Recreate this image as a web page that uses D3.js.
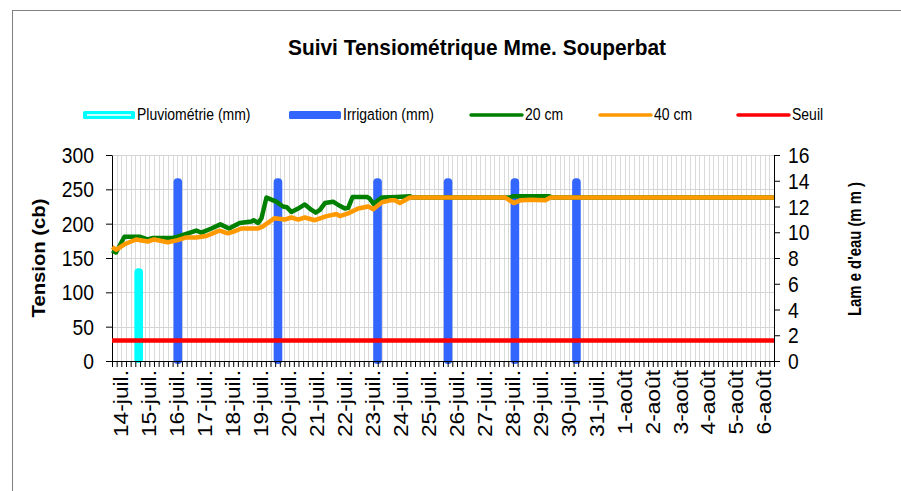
<!DOCTYPE html>
<html>
<head>
<meta charset="utf-8">
<script src="https://cdn.jsdelivr.net/npm/d3@7"></script>
<style>
  body { margin: 0; background: #fff; }
  svg { font-family: "Liberation Sans", Arial, sans-serif; display: block; }
</style>
</head>
<body>
<div id="svganchor"></div>
<script>
let width = 901;
let height = 491;
let margin = ({top: 155, right: 127, bottom: 130, left: 112});

// day labels (t = 0 is 14-juil.)
let dayLabels = ["14-juil.", "15-juil.", "16-juil.", "17-juil.", "18-juil.", "19-juil.", "20-juil.",
  "21-juil.", "22-juil.", "23-juil.", "24-juil.", "25-juil.", "26-juil.", "27-juil.", "28-juil.",
  "29-juil.", "30-juil.", "31-juil.", "1-août", "2-août", "3-août", "4-août", "5-août", "6-août"];

// tension at 20 cm : [day, cb]
let tension20 = [[-0.33,161],[-0.19,158],[0.11,181],[0.65,181],[0.94,177],[1.11,179],[1.79,179],
  [2.01,181],[2.32,185],[2.68,190],[2.86,187],[3.22,193],[3.54,199],[3.85,193],[4.23,201],
  [4.65,203],[4.73,205],[4.89,201],[5.01,208],[5.19,238],[5.54,232],[5.78,225],[5.92,224],
  [6.08,217],[6.32,222],[6.56,228],[6.80,220],[6.95,216],[7.10,220],[7.28,230],[7.57,232],
  [7.81,226],[7.99,222],[8.11,223],[8.27,239],[8.77,239],[8.87,237],[9.01,229],[9.31,238],
  [9.85,239],[10.32,240],[10.4,238],[13.9,238],[14.0,240],[15.3,240],[15.4,238],[23.33,238]];

// tension at 40 cm : [day, cb]
let tension40 = [[-0.33,166],[-0.19,162],[0.11,170],[0.53,177],[0.94,174],[1.18,177],[1.66,173],
  [2.02,176],[2.32,180],[2.68,180],[3.04,182],[3.33,187],[3.51,190],[3.81,186],[3.99,188],
  [4.29,193],[4.89,193],[5.06,196],[5.48,208],[5.84,206],[6.08,209],[6.32,206],[6.56,209],
  [6.92,205],[7.34,211],[7.70,214],[7.81,211],[8.11,215],[8.47,222],[8.83,225],[9.01,221],
  [9.31,231],[9.61,234],[9.78,234],[9.96,230],[10.32,238],[13.73,238],[14.03,230],[14.27,234],
  [14.62,235],[15.16,234],[15.34,238],[23.33,238]];

// rain and irrigation : [day, mm]
let pluvio = [[0.62, 7.2]];
let irrigation = [[2.02,14.2],[5.60,14.2],[9.16,14.2],[11.68,14.2],[14.07,14.2],[16.27,14.2]];

let seuil = 30;

let tensionTicks = [0, 50, 100, 150, 200, 250, 300];
let lameTicks = [0, 2, 4, 6, 8, 10, 12, 14, 16];

let legendItems = [
  {name: "Pluviométrie (mm)", kind: "pluvio", x: 83},
  {name: "Irrigation (mm)", kind: "irrig", x: 289},
  {name: "20 cm", kind: "line", color: "#008000", x: 471},
  {name: "40 cm", kind: "line", color: "#FF9900", x: 600},
  {name: "Seuil", kind: "line", color: "#FF0000", x: 738}
];

// text in the source is a bit taller than wide
let stretch = 1.18;

let svg = d3.select("#svganchor")
    .append("svg")
    .attr("width", width)
    .attr("height", height);

// chart frame
svg.append("rect")
    .attr("x", 12.5).attr("y", 10.5)
    .attr("width", 1000).attr("height", 1000)
    .attr("fill", "white")
    .attr("stroke", "#808080");

let x0 = margin.left, x1 = width - margin.right;
let y0 = height - margin.bottom, y1 = margin.top;

// 4-hour categories
let xScale = d3.scaleLinear().domain([-1/3, 70/3]).range([x0, x1]);
let yLeft = d3.scaleLinear().domain([0, 300]).range([y0, y1]);
let yRight = d3.scaleLinear().domain([0, 16]).range([y0, y1]);

let catEdges = d3.range(0, 143).map(k => -1/3 + k / 6);

// vertical grid
svg.append("g").selectAll("line")
    .data(catEdges.slice(1, -1))
    .join("line")
    .attr("x1", d => Math.round(xScale(d)) + 0.5)
    .attr("x2", d => Math.round(xScale(d)) + 0.5)
    .attr("y1", y1).attr("y2", y0)
    .attr("stroke", "#dadada");

// horizontal grid
svg.append("g").selectAll("line")
    .data(tensionTicks.slice(1))
    .join("line")
    .attr("x1", x0).attr("x2", x1)
    .attr("y1", d => Math.round(yLeft(d)) + 0.5)
    .attr("y2", d => Math.round(yLeft(d)) + 0.5)
    .attr("stroke", "#d4d4d4");

// bars (right axis)
svg.append("g").selectAll("rect")
    .data(pluvio)
    .join("rect")
    .attr("x", d => xScale(d[0]) - 4.3)
    .attr("width", 8.6)
    .attr("y", d => yRight(d[1]))
    .attr("height", d => yRight(0) - yRight(d[1]) + 2)
    .attr("rx", 4)
    .attr("fill", "#00FFFF");

svg.append("g").selectAll("rect")
    .data(irrigation)
    .join("rect")
    .attr("x", d => xScale(d[0]) - 4.3)
    .attr("width", 8.6)
    .attr("y", d => yRight(d[1]))
    .attr("height", d => yRight(0) - yRight(d[1]) + 3)
    .attr("rx", 4)
    .attr("fill", "#3366FF");

// axes
let xAxis = d3.axisBottom(xScale)
    .tickValues(catEdges)
    .tickSize(6)
    .tickFormat("");
svg.append("g")
    .attr("transform", "translate(0," + y0 + ")")
    .call(xAxis)
    .call(g => g.select(".domain").attr("stroke", "#000"));

function styleTicks(g) {
    g.selectAll("text")
        .attr("font-size", 19.3)
        .attr("fill", "#000")
        .attr("font-family", "Liberation Sans, Arial")
        .attr("y", 0)
        .attr("dy", "0.33em")
        .attr("transform", "scale(1," + stretch + ")");
}

svg.append("g")
    .attr("transform", "translate(" + x0 + ",0)")
    .call(d3.axisLeft(yLeft).tickValues(tensionTicks).tickSize(6).tickSizeOuter(0).tickPadding(12))
    .call(styleTicks);

svg.append("g")
    .attr("transform", "translate(" + x1 + ",0)")
    .call(d3.axisRight(yRight).tickValues(lameTicks).tickSize(6).tickSizeOuter(0).tickPadding(8))
    .call(styleTicks);

// date labels
svg.append("g").selectAll("text")
    .data(dayLabels)
    .join("text")
    .attr("transform", (d, i) => "translate(" + xScale(i) + "," + (y0 + 9) + ") scale(1," + stretch + ") rotate(-90)")
    .attr("text-anchor", "end")
    .attr("dy", "0.35em")
    .attr("font-size", 19.3)
    .text(d => d);

// threshold
svg.append("line")
    .attr("x1", x0).attr("x2", x1)
    .attr("y1", yLeft(seuil)).attr("y2", yLeft(seuil))
    .attr("stroke", "#FF0000")
    .attr("stroke-width", 4.5);

// tension lines
let line = d3.line()
    .x(d => xScale(d[0]))
    .y(d => yLeft(d[1]));

svg.append("path")
    .datum(tension20)
    .attr("d", line)
    .attr("fill", "none")
    .attr("stroke", "#008000")
    .attr("stroke-width", 4.5)
    .attr("stroke-linejoin", "round");

svg.append("path")
    .datum(tension40)
    .attr("d", line)
    .attr("fill", "none")
    .attr("stroke", "#FF9900")
    .attr("stroke-width", 4.5)
    .attr("stroke-linejoin", "round");

// titles
svg.append("text")
    .attr("transform", "translate(477,55) scale(1,1.1)")
    .attr("text-anchor", "middle")
    .attr("font-size", 20)
    .attr("font-weight", "bold")
    .attr("textLength", 378)
    .attr("lengthAdjust", "spacingAndGlyphs")
    .text("Suivi Tensiométrique Mme. Souperbat");

svg.append("text")
    .attr("transform", "translate(45,258) rotate(-90)")
    .attr("text-anchor", "middle")
    .attr("font-size", 17.5)
    .attr("font-weight", "bold")
    .attr("textLength", 119)
    .attr("lengthAdjust", "spacingAndGlyphs")
    .text("Tension (cb)");

svg.append("text")
    .attr("transform", "translate(861,249) rotate(-90)")
    .attr("text-anchor", "middle")
    .attr("font-size", 19)
    .attr("font-weight", "bold")
    .attr("textLength", 134)
    .attr("lengthAdjust", "spacingAndGlyphs")
    .text("Lam e d'eau (m m )");

// legend
let legend = svg.append("g");
legendItems.forEach(function(d) {
    if (d.kind === "pluvio") {
        legend.append("rect").attr("x", d.x).attr("y", 111).attr("width", 52).attr("height", 8)
            .attr("rx", 1.5).attr("fill", "#00FFFF");
        legend.append("rect").attr("x", d.x + 4).attr("y", 114).attr("width", 44).attr("height", 2)
            .attr("fill", "#ccffff");
    } else if (d.kind === "irrig") {
        legend.append("rect").attr("x", d.x).attr("y", 111).attr("width", 52).attr("height", 8)
            .attr("rx", 1.5).attr("fill", "#3366FF");
    } else {
        legend.append("line").attr("x1", d.x).attr("x2", d.x + 51).attr("y1", 115).attr("y2", 115)
            .attr("stroke", d.color).attr("stroke-width", 3.5).attr("stroke-linecap", "round");
    }
    legend.append("text")
        .attr("transform", "translate(" + (d.x + 54) + ",120) scale(1,1.12)")
        .attr("font-size", 14)
        .text(d.name);
});
</script>
</body>
</html>
